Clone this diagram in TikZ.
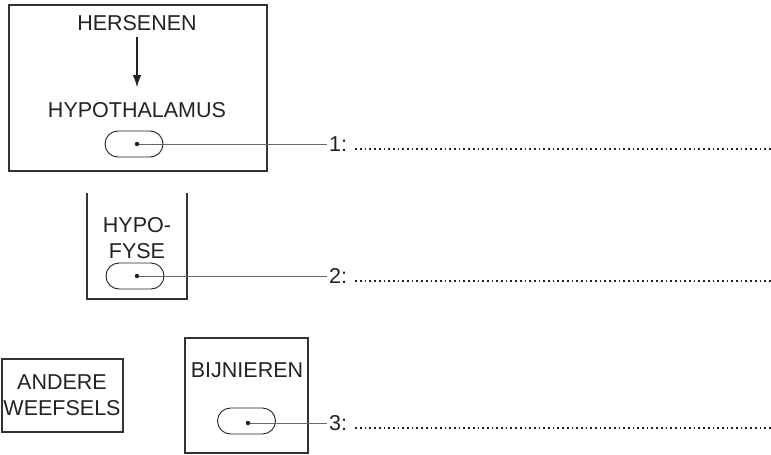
\documentclass[tikz,border=0pt]{standalone}
\usepackage{fontspec}
\setmainfont{Liberation Sans}
\usetikzlibrary{arrows.meta}
\definecolor{ink}{HTML}{222222}
\definecolor{frame}{HTML}{333333}
\definecolor{wire}{HTML}{666666}
\begin{document}
\begin{tikzpicture}[x=1pt, y=-1pt,
	txt/.style={inner sep=0, text=ink, font=\fontsize{21.5}{26}\selectfont, align=center},
	lab/.style={inner sep=2pt, anchor=west, text=ink, font=\fontsize{21.5}{26}\selectfont},
	box/.style={draw=frame, line width=1.4pt},
	pill/.style={draw=ink, line width=0.9pt, minimum width=58pt, minimum height=26pt, rounded corners=13pt, inner sep=0},
	spot/.style={circle, fill=ink, inner sep=0, minimum size=4.5pt},
	wire/.style={draw=wire, line width=1pt},
	leader/.style={draw=ink, line width=1.8pt, dash pattern=on 1.7pt off 3pt}]
	\useasboundingbox (0,0) rectangle (771,455);
	
	\draw[box] (9,5) rectangle (267,171);				% Hersenen-Kasten
	\draw[box] (87,193) -- (87,299) -- (187,299) -- (187,193);	% offen nach oben
	\draw[box] (2,359) rectangle (123,432);
	\draw[box] (185,338) rectangle (308,453);
	
	\node[txt] (hers) at (137,23) {HERSENEN};
	\node[txt] (hypo) at (137,110) {HYPOTHALAMUS};
	\draw[ink, line width=1.2pt, -{Latex[length=12pt,width=8.5pt]}, shorten <=6pt, shorten >=15pt] (hers) -- (hypo);
	\node[txt] (fyse) at (137,238) {HYPO-\\FYSE};
	\node[txt] (ander) at (62,395) {ANDERE\\WEEFSELS};
	\node[txt] (bijn) at (247,370) {BIJNIEREN};
	
	\node[pill] (p1) at (134,144) {};					% Kuhle
	\node[pill] (p2) at (135,276) {};
	\node[pill] (p3) at (246.5,421) {};
	\node[spot] (s1) at (137,144) {};
	\node[spot] (s2) at (137,276) {};
	\node[spot] (s3) at (248,423) {};
	
	\node[lab] (l1) at (327,144) {1:};
	\node[lab] (l2) at (327,276) {2:};
	\node[lab] (l3) at (327,423) {3:};
	\draw[wire] (s1) -- (l1.west);
	\draw[wire] (s2) -- (l2.west);
	\draw[wire] (s3) -- (l3.west);
	
	\coordinate (e1) at (771,149);						% Ende der Punktlinie
	\coordinate (e2) at (771,281);
	\coordinate (e3) at (771,428);
	\draw[leader] (l1.east |- e1) ++(6,0) -- (e1);
	\draw[leader] (l2.east |- e2) ++(6,0) -- (e2);
	\draw[leader] (l3.east |- e3) ++(6,0) -- (e3);
\end{tikzpicture}
\end{document}
